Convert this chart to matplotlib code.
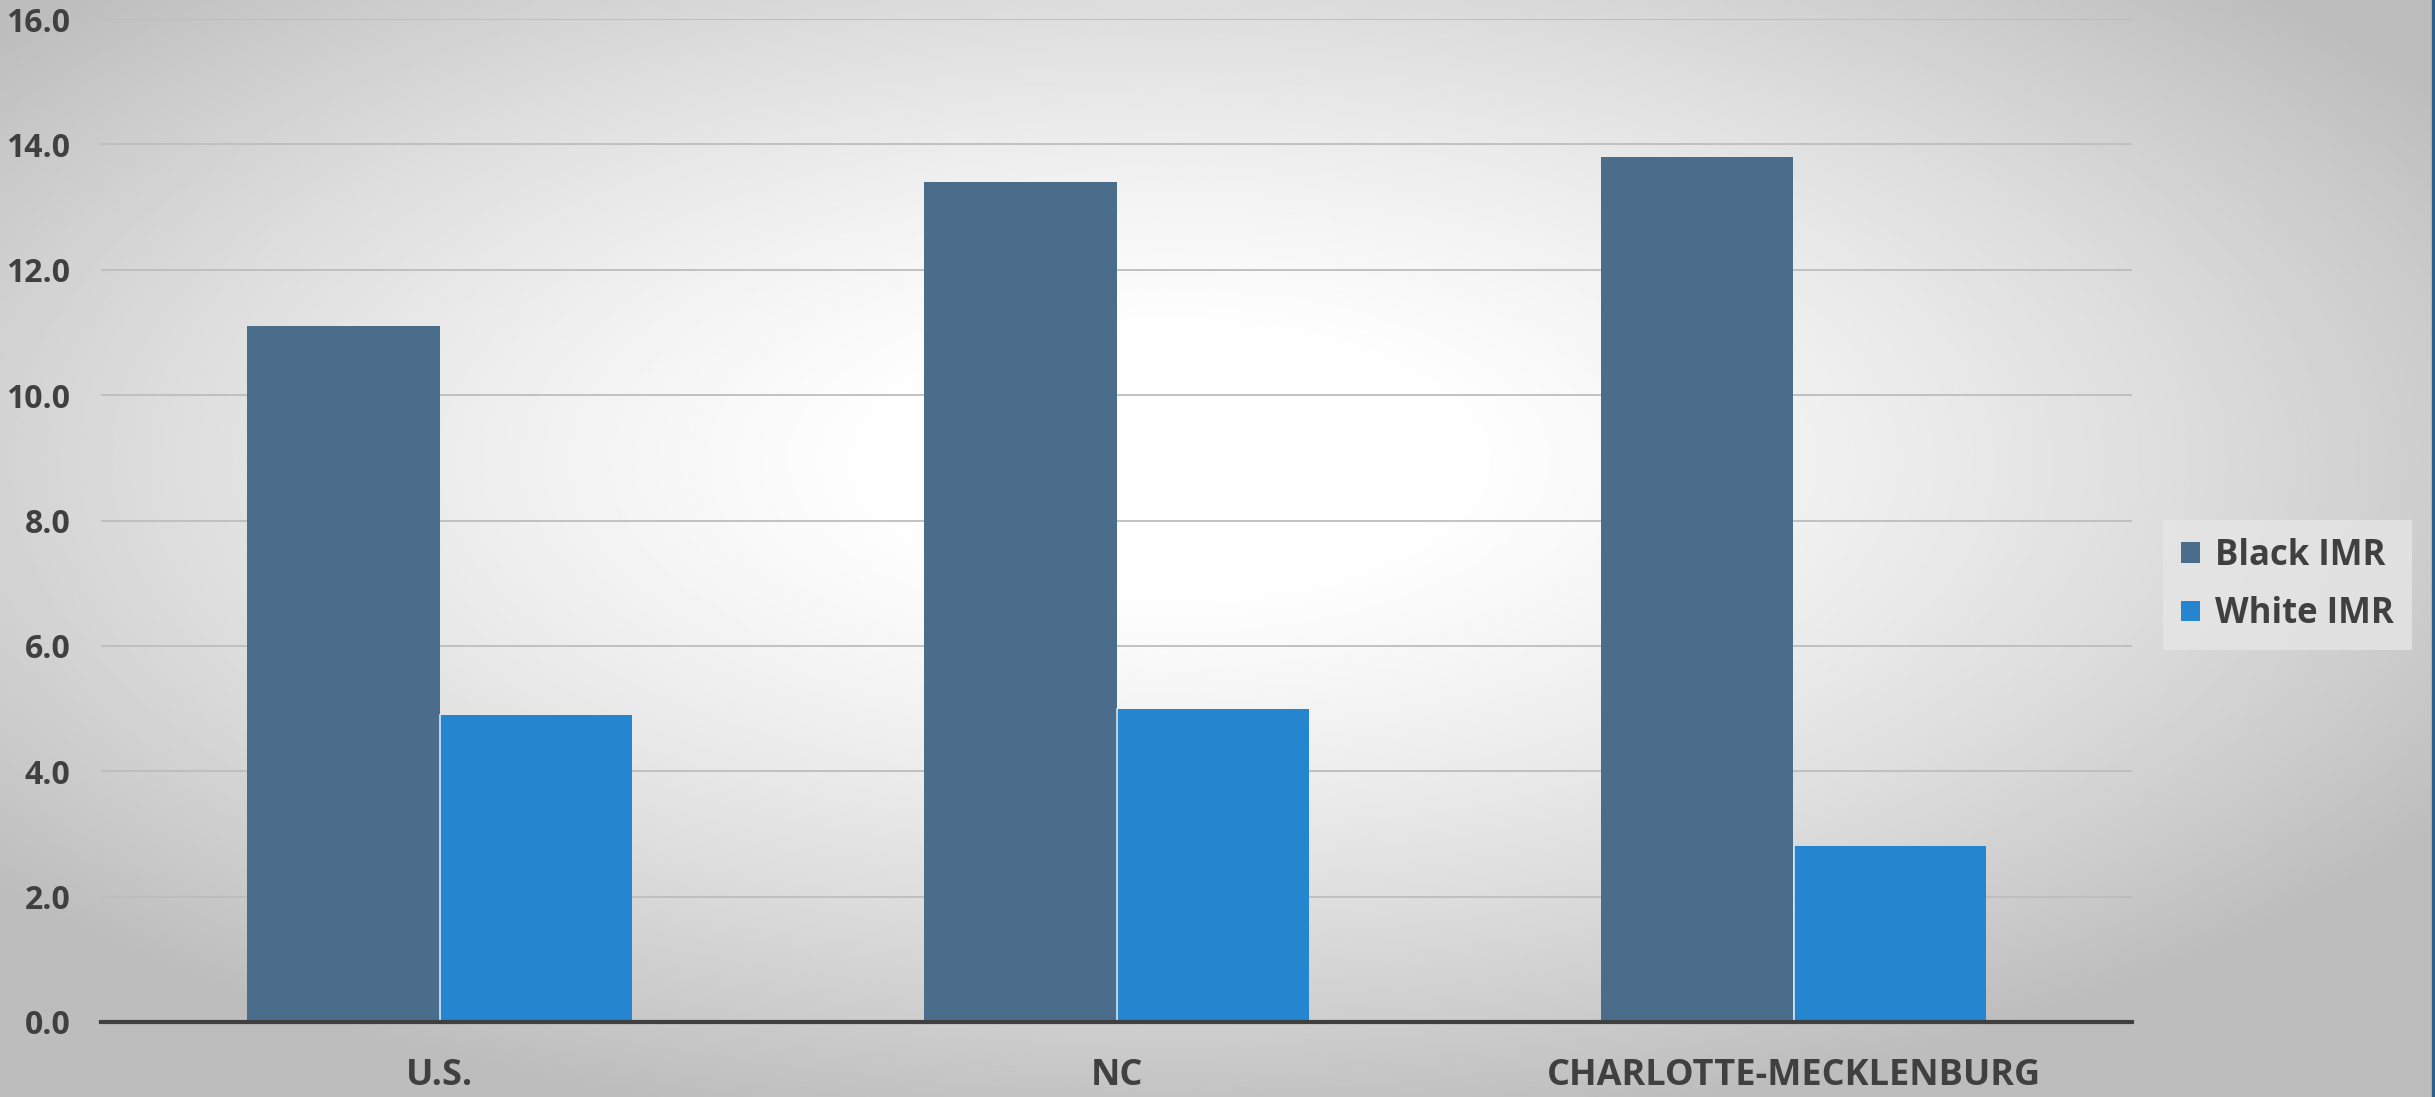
import numpy as np
import matplotlib.pyplot as plt

categories = ['U.S.', 'NC', 'CHARLOTTE-MECKLENBURG']
black_imr = [11.1, 13.4, 13.8]
white_imr = [4.9, 5.0, 2.8]
yticks = [0, 2, 4, 6, 8, 10, 12, 14, 16]

plt.rcParams['font.family'] = ['Open Sans', 'DejaVu Sans']
text_color = '#404040'

fig = plt.figure(figsize=(24.35, 10.97), dpi=100)

# radial gradient background
bg = fig.add_axes([0, 0, 1, 1], zorder=0)
yy, xx = np.mgrid[0:1:400j, 0:1:800j]
r = np.sqrt(((xx - 0.48) / 0.62) ** 2 + ((yy - 0.58) / 0.62) ** 2)
shade = np.clip(1.02 - 0.28 * r ** 1.5, 0.74, 1.0)
bg.imshow(shade, cmap='gray', vmin=0, vmax=1, extent=[0, 1, 0, 1], aspect='auto', origin='lower')
bg.axvspan(0.9988, 1.0, color='#2d5f88')
bg.set_xlim(0, 1)
bg.set_ylim(0, 1)
bg.axis('off')

ax = fig.add_axes([101 / 2435, (1097 - 1022) / 1097, (2132 - 101) / 2435, (1022 - 19) / 1097], zorder=1)
ax.patch.set_alpha(0)

x = np.arange(len(categories))
w = 0.285
ax.bar(x - w / 2, black_imr, w, color='#4a6d8c', edgecolor='none', label='Black IMR', zorder=3)
ax.bar(x + w / 2, white_imr, w, color='#2585cf', edgecolor='none', label='White IMR', zorder=3)
# thin light separator between the bars
for xi, b, wv in zip(x, black_imr, white_imr):
    ax.plot([xi, xi], [0, min(b, wv)], color='#d8e4f0', lw=1.2, zorder=4)

ax.set_xlim(-0.5, 2.5)
ax.set_ylim(0, 16)
ax.set_yticks(yticks)
ax.set_yticklabels([f'{v:.1f}' for v in yticks], fontsize=23, fontweight='bold', color=text_color)
ax.set_xticks(x)
ax.set_xticklabels(categories, fontsize=26, fontweight='bold', color=text_color)
ax.tick_params(axis='both', length=0)
ax.tick_params(axis='y', pad=22)
ax.tick_params(axis='x', pad=26)

ax.grid(axis='y', color='#bdbdbd', lw=1.3, zorder=1)
for s in ['top', 'right', 'left']:
    ax.spines[s].set_visible(False)
ax.spines['bottom'].set_color('#404040')
ax.spines['bottom'].set_linewidth(3)
ax.spines['bottom'].set_zorder(5)

leg = fig.legend(loc='center left', bbox_to_anchor=(2146 / 2435, 1 - 585 / 1097),
                 prop={'size': 25, 'weight': 'bold'}, frameon=True, fancybox=False,
                 handlelength=0.55, handleheight=0.55, handletextpad=0.45, labelspacing=0.65,
                 borderpad=0.5)
leg.get_frame().set_facecolor('#e6e6e6')
leg.get_frame().set_edgecolor('none')
leg.get_frame().set_alpha(0.8)
for t in leg.get_texts():
    t.set_color(text_color)

fig.savefig('out.png', dpi=100)
